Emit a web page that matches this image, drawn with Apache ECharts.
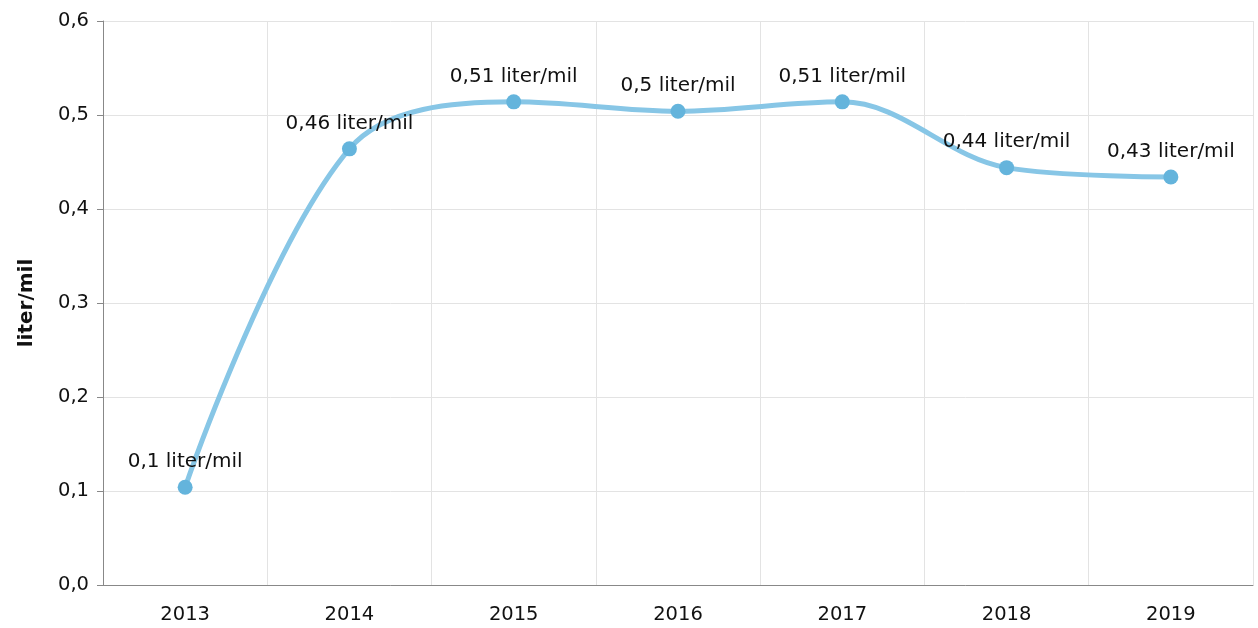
<!DOCTYPE html>
<html>
<head>
<meta charset="utf-8">
<script src="https://cdn.jsdelivr.net/npm/echarts@6/dist/echarts.min.js"></script>
<style>
  html, body { margin: 0; padding: 0; background: #fff; }
  #chart { width: 1258px; height: 628px; }
</style>
</head>
<body>
<div id="chart"></div>
<script>
const years = ['2013', '2014', '2015', '2016', '2017', '2018', '2019']
const literPerMil = [0.104, 0.464, 0.514, 0.504, 0.514, 0.444, 0.434]
const yTicks = [0, 0.1, 0.2, 0.3, 0.4, 0.5, 0.6]

const font = 'DejaVu Sans, Verdana, sans-serif'
const comma = v => String(v).replace('.', ',')

const chart = echarts.init(document.getElementById('chart'))

chart.setOption({
  animation: false,
  textStyle: { fontFamily: font },
  grid: {
    top: 21,
    left: 103,
    right: 5,
    bottom: 43
  },
  xAxis: {
    type: 'category',
    data: years,
    boundaryGap: true,
    axisLine: { lineStyle: { color: '#888', width: 1 } },
    axisTick: { alignWithLabel: true, length: 6, lineStyle: { color: '#888' } },
    axisLabel: { color: '#111', fontSize: 19.5, margin: 20, fontFamily: font },
    splitLine: { show: true, lineStyle: { color: '#e3e3e3' } }
  },
  yAxis: {
    type: 'value',
    min: yTicks[0],
    max: yTicks[yTicks.length - 1],
    interval: 0.1,
    name: 'liter/mil',
    nameLocation: 'middle',
    nameGap: 66,
    nameTextStyle: { fontSize: 20, fontWeight: 'bold', color: '#111', fontFamily: font },
    axisLine: { show: true, lineStyle: { color: '#888', width: 1 } },
    axisTick: { show: true, length: 6, lineStyle: { color: '#888' } },
    axisLabel: {
      color: '#111',
      fontSize: 19.5,
      margin: 14,
      fontFamily: font,
      formatter: v => v.toFixed(1).replace('.', ',')
    },
    splitLine: { show: true, lineStyle: { color: '#e3e3e3' } }
  },
  series: [{
    type: 'line',
    data: literPerMil,
    smooth: 0.35,
    symbol: 'circle',
    symbolSize: 15,
    lineStyle: { color: '#87c6e6', width: 5 },
    itemStyle: { color: '#64b4dc' },
    label: {
      show: true,
      position: 'top',
      distance: 8,
      color: '#111',
      fontSize: 20,
      fontFamily: font,
      formatter: p => comma(parseFloat(p.value.toFixed(2))) + ' liter/mil'
    }
  }]
})
</script>
</body>
</html>
